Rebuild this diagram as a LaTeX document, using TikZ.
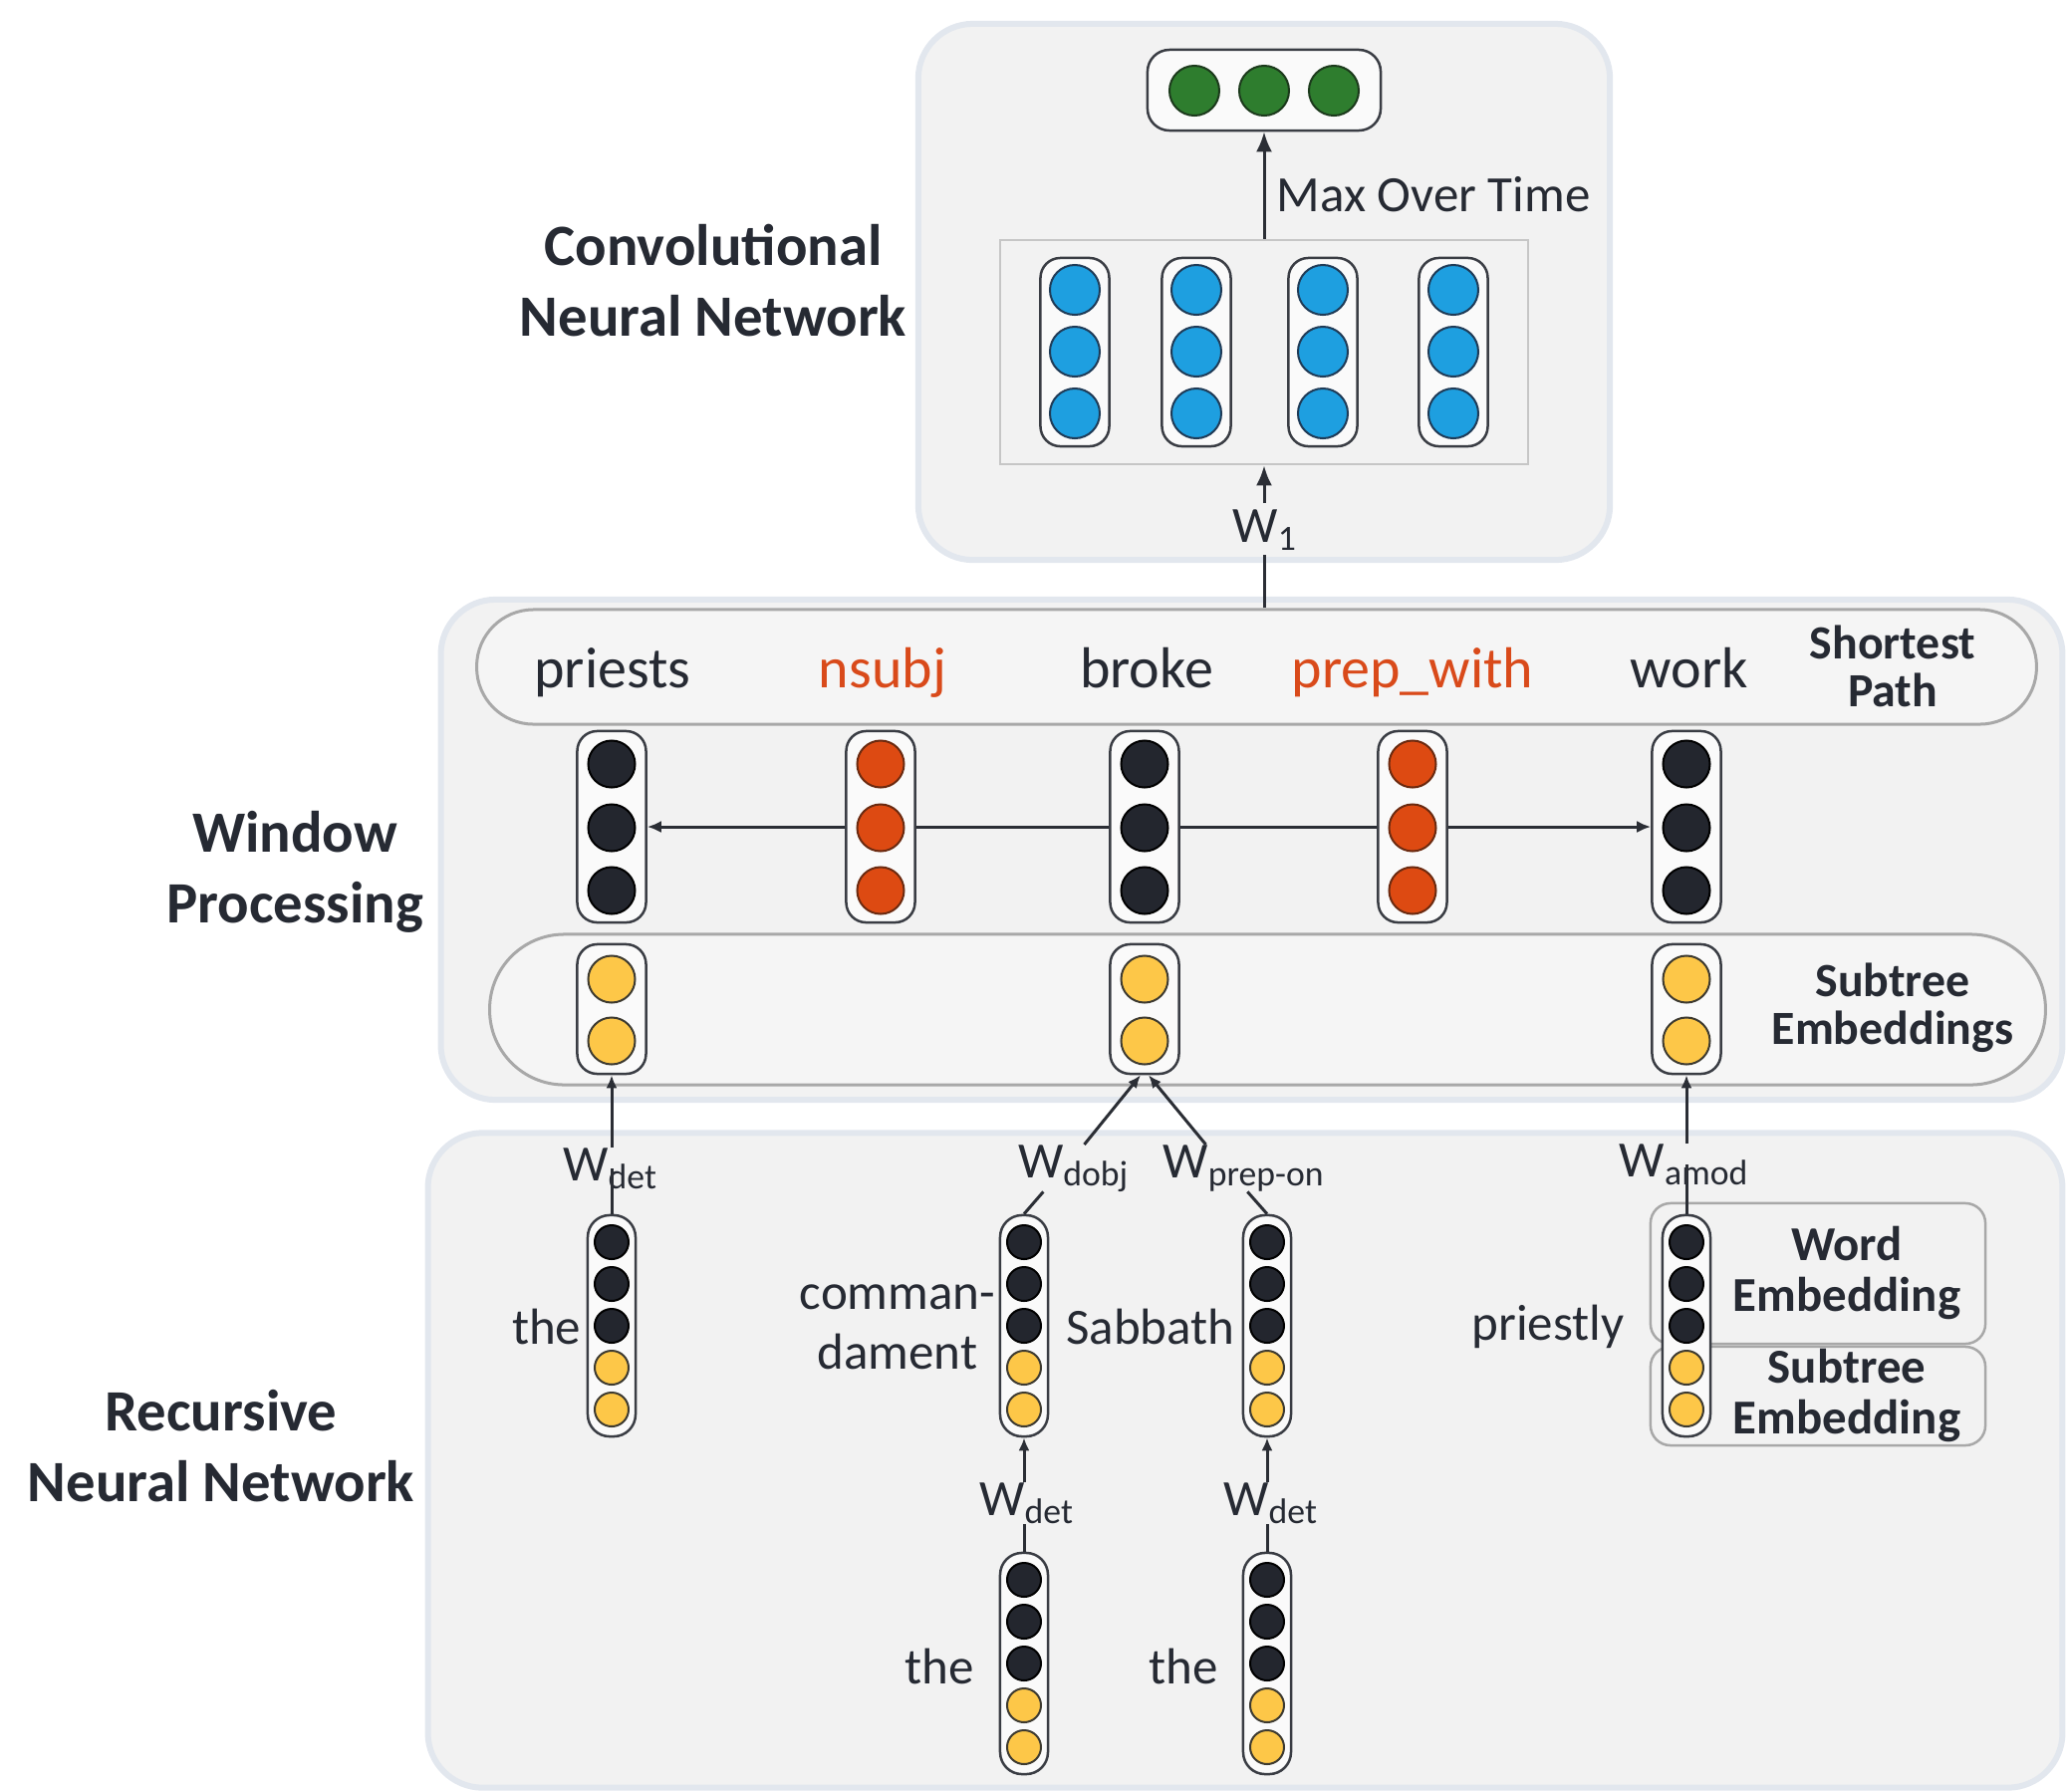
\documentclass[tikz,border=0pt]{standalone}
\usepackage{fontspec}
\setmainfont{Carlito}
\usetikzlibrary{arrows.meta,calc}
\pgfdeclarelayer{back}
\pgfdeclarelayer{mid}
\pgfsetlayers{back,mid,main}
\definecolor{panelfill}{HTML}{F2F2F2}
\definecolor{panelline}{HTML}{E2E7EE}
\definecolor{pillfill}{HTML}{F5F5F5}
\definecolor{pillline}{HTML}{A8A8A8}
\definecolor{colfill}{HTML}{FAFAFA}
\definecolor{colline}{HTML}{3A3D44}
\definecolor{linecol}{HTML}{2B2E35}
\definecolor{darkdot}{HTML}{23262E}
\definecolor{orangedot}{HTML}{DD4A12}
\definecolor{orangeline}{HTML}{6B2A10}
\definecolor{yellowdot}{HTML}{FDC748}
\definecolor{yellowline}{HTML}{3D3A30}
\definecolor{bluedot}{HTML}{1E9FE0}
\definecolor{blueline}{HTML}{1F3B57}
\definecolor{greendot}{HTML}{2E7D2E}
\definecolor{greenline}{HTML}{1C3A1C}
\definecolor{txtdark}{HTML}{262A33}
\definecolor{txtorange}{HTML}{D94A1A}
\newcommand\leafcol[3]{%
  \node[leafbox] (#1) at (#2,#3) {};
  \foreach \k/\dy/\c/\e in {1/-84/darkdot/black,2/-42/darkdot/black,3/0/darkdot/black,4/42/yellowdot/yellowline,5/84/yellowdot/yellowline}
    \node[smalldot,fill=\c,draw=\e] (#1d\k) at ($(#1)+(0,\dy)$) {};
}
\begin{document}
\begin{tikzpicture}[x=0.01cm,y=-0.01cm,
  panel/.style={draw=panelline,line width=0.06cm,fill=panelfill,rounded corners=0.55cm,inner sep=0},
  pill/.style={draw=pillline,line width=0.03cm,fill=pillfill,inner sep=0},
  colbox/.style={draw=colline,line width=0.025cm,fill=colfill,rounded corners=0.2cm,inner sep=0,minimum width=0.69cm},
  leafbox/.style={draw=colline,line width=0.025cm,fill=colfill,rounded corners=0.22cm,inner sep=0,minimum width=0.48cm,minimum height=2.22cm},
  dot/.style={circle,inner sep=0,line width=0.02cm},
  bigdot/.style={dot,minimum size=0.47cm},
  smalldot/.style={dot,minimum size=0.34cm},
  conn/.style={draw=linecol,line width=0.03cm},
  arr/.style={conn,-{Latex[length=0.13cm,width=0.11cm]}},
  arrbig/.style={conn,-{Latex[length=0.2cm,width=0.16cm]}},
  word/.style={font=\fontsize{16.5}{19}\selectfont,text=txtdark,anchor=base,inner sep=0},
  rel/.style={word,text=txtorange},
  side/.style={font=\bfseries\fontsize{16.7}{20.2}\selectfont,text=txtdark,align=center,inner sep=0},
  tag/.style={font=\bfseries\fontsize{13.6}{13.6}\selectfont,text=txtdark,align=center,inner sep=0},
  lbl/.style={font=\fontsize{14.5}{17}\selectfont,text=txtdark,inner sep=0},
]
\useasboundingbox (0,0) rectangle (2074,1799);

% panels
\begin{pgfonlayer}{back}
\node[panel,minimum width=6.94cm,minimum height=5.38cm] (cnnp) at (1269,293) {};
\node[panel,minimum width=16.27cm,minimum height=5.02cm] (winp) at (1256.5,853) {};
\node[panel,minimum width=16.40cm,minimum height=6.57cm] (rnnp) at (1250,1466) {};
\node[pill,minimum width=15.65cm,minimum height=1.15cm,rounded corners=0.57cm] (sp) at (1261.5,669.5) {};
\node[pill,minimum width=15.61cm,minimum height=1.51cm,rounded corners=0.75cm] (st) at (1272.5,1013.5) {};
\end{pgfonlayer}

% side labels
\node[side] (cnnlab) at (716,282) {Convolutional\\Neural Network};
\node[side] (winlab) at (296,875) {Window\\Processing};
\node[side] (rnnlab) at (222,1452) {Recursive\\Neural Network};

% CNN part
\node[draw=gray!45,line width=0.025cm,fill=panelfill,minimum width=5.30cm,minimum height=2.25cm,inner sep=0] (conv) at (1269,353.5) {};
\foreach \i/\x in {1/1079,2/1201,3/1328,4/1459}{
  \node[colbox,minimum height=1.89cm] (b\i) at (\x,353.5) {};
  \foreach \j/\y in {1/291,2/353,3/415}
    \node[bigdot,minimum size=0.50cm,fill=bluedot,draw=blueline] (b\i d\j) at (\x,\y) {};
}
\node[colbox,minimum width=2.34cm,minimum height=0.81cm,rounded corners=0.22cm] (out) at (1269,90.5) {};
\foreach \j/\x in {1/1199,2/1269,3/1339}
  \node[bigdot,minimum size=0.50cm,fill=greendot,draw=greenline] (g\j) at (\x,91) {};
\draw[arrbig] (conv.north) -- (out.south);
\node[lbl,anchor=west] (mot) at (1281,195) {Max Over Time};
\node[lbl] (wone) at (1270,532) {W\textsubscript{1}};
\draw[conn] (sp.north -| conv.south) -- ($(wone.south -| conv.south)+(0,4)$);
\draw[arrbig] ($(wone.north -| conv.south)+(0,-6)$) -- (conv.south);

% shortest path words
\node[word] (tpri) at (615,690) {priests};
\node[rel] (tnsu) at (886,690) {nsubj};
\node[word] (tbro) at (1151,690) {broke};
\node[rel] (tpre) at (1418,690) {prep\_with};
\node[word] (twor) at (1696,690) {work};
\node[tag] (sptag) at (1900,669) {Shortest\\Path};

% window columns
\foreach \i/\x/\c/\e in {1/614/darkdot/black,2/884/orangedot/orangeline,3/1149/darkdot/black,4/1418/orangedot/orangeline,5/1693/darkdot/black}{
  \node[colbox,minimum height=1.92cm] (win\i) at (\x,830) {};
  \foreach \j/\y in {1/767,2/831,3/894}
    \node[bigdot,fill=\c,draw=\e] (win\i d\j) at (\x,\y) {};
}
\begin{pgfonlayer}{mid}
\draw[conn,{Latex[length=0.14cm,width=0.12cm]}-{Latex[length=0.14cm,width=0.12cm]}] (win1.east) -- (win5.west);
\end{pgfonlayer}

% subtree embedding columns
\foreach \i/\x in {1/614,2/1149,3/1693}{
  \node[colbox,minimum height=1.30cm] (sub\i) at (\x,1013) {};
  \foreach \j/\y in {1/983,2/1045}
    \node[bigdot,fill=yellowdot,draw=yellowline] (sub\i d\j) at (\x,\y) {};
}
\node[tag] (sttag) at (1900,1012) {Subtree\\Embeddings};

% word / subtree embedding boxes
\node[draw=pillline,line width=0.025cm,rounded corners=0.2cm,minimum width=3.36cm,minimum height=1.41cm,inner sep=0] (webox) at (1825,1278.5) {};
\node[draw=pillline,line width=0.025cm,rounded corners=0.2cm,minimum width=3.36cm,minimum height=0.99cm,inner sep=0] (sebox) at (1825,1401.5) {};
\node[tag,font=\bfseries\fontsize{13.9}{14.6}\selectfont] (wetag) at (1854,1278) {Word\\Embedding};
\node[tag,font=\bfseries\fontsize{13.9}{14.6}\selectfont] (setag) at (1854,1401) {Subtree\\Embedding};

% leaf columns
\leafcol{lfA}{614}{1331}
\leafcol{lfB}{1028}{1331}
\leafcol{lfC}{1272}{1331}
\leafcol{lfD}{1693}{1331}
\leafcol{lfE}{1028}{1670}
\leafcol{lfF}{1272}{1670}

% leaf words
\node[lbl,anchor=east] (theA) at (584,1332) {the};
\node[lbl,align=center] (cmd) at (901,1332) {comman-\\dament};
\node[lbl] (sab) at (1155,1332) {Sabbath};
\node[lbl] (pri) at (1554,1332) {priestly};
\node[lbl] (theE) at (943,1673) {the};
\node[lbl] (theF) at (1188,1673) {the};

% W labels
\node[lbl] (wdetA) at (613,1173) {W\textsubscript{det}};
\node[lbl] (wdobj) at (1078,1173) {W\textsubscript{dobj}};
\node[lbl] (wprep) at (1249,1173) {W\textsubscript{prep-on}};
\node[lbl] (wamod) at (1691,1169) {W\textsubscript{amod}};
\node[lbl] (wdetE) at (1031,1509) {W\textsubscript{det}};
\node[lbl] (wdetF) at (1276,1509) {W\textsubscript{det}};

% connectors
\draw[conn] (lfA.north) -- (wdetA.center -| lfA.north);
\draw[arr] (wdetA.north -| sub1.south) -- (sub1.south);
\draw[conn] (lfB.north) -- ($(lfB.north)!0.16!(sub2.south)$);
\draw[arr] ($(lfB.north)!0.5!(sub2.south)$) -- ($(sub2.south)+(-4,0)$);
\draw[conn] (lfC.north) -- ($(lfC.north)!0.16!(sub2.south)$);
\draw[arr] ($(lfC.north)!0.5!(sub2.south)$) -- ($(sub2.south)+(4,0)$);
\draw[conn] (lfD.north) -- (wamod.center -| lfD.north);
\draw[arr] (wamod.north -| sub3.south) -- (sub3.south);
\draw[conn] (lfE.north) -- (wdetE.south -| lfE.north);
\draw[arr] (wdetE.north -| lfE.north) -- (lfB.south);
\draw[conn] (lfF.north) -- (wdetF.south -| lfF.north);
\draw[arr] (wdetF.north -| lfF.north) -- (lfC.south);
\end{tikzpicture}
\end{document}
